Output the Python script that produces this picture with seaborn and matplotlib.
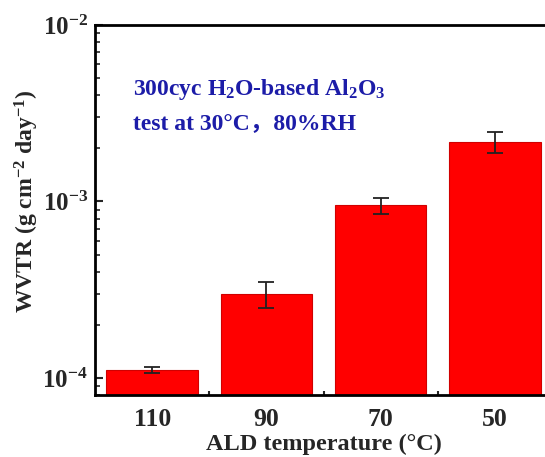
import matplotlib
matplotlib.use("Agg")
import matplotlib.pyplot as plt
import seaborn as sns
import pandas as pd
import numpy as np
from matplotlib.ticker import LogLocator, FixedLocator, NullFormatter

categories = ["110", "90", "70", "50"]
wvtr = [1.11e-4, 3.0e-4, 9.5e-4, 2.18e-3]
wvtr_err = [0.05e-4, 0.5e-4, 1.0e-4, 0.3e-3]

sns.set_theme(style="white")
plt.rcParams['font.family'] = ['Liberation Serif', 'Noto Sans CJK SC']
plt.rcParams['font.weight'] = 'bold'
plt.rcParams['mathtext.fontset'] = 'custom'
plt.rcParams['mathtext.rm'] = 'Liberation Serif:bold'
plt.rcParams['mathtext.it'] = 'Liberation Serif:italic:bold'
plt.rcParams['mathtext.bf'] = 'Liberation Serif:bold'
plt.rcParams['mathtext.default'] = 'rm'

fig = plt.figure(figsize=(5.45, 4.57), dpi=100)
ax = fig.add_axes([95/545, 62/457, 457/545, 370/457])

df = pd.DataFrame({"temp": categories, "wvtr": wvtr})
sns.barplot(data=df, x="temp", y="wvtr", order=categories, color="#ff0000",
            saturation=1, width=0.8, edgecolor="#d00000", linewidth=0.8, ax=ax, errorbar=None)
ax.errorbar(np.arange(len(categories)), wvtr, yerr=wvtr_err, fmt="none",
            ecolor="#222222", elinewidth=1.3, capsize=6, capthick=1.3)

ax.set_yscale("log")
ax.set_ylim(8.0e-5, 1e-2)
ax.set_xlim(-0.5, 3.5)
ax.yaxis.set_major_locator(FixedLocator([1e-4, 1e-3, 1e-2]))
ax.set_yticklabels([r"$10^{-4}$", r"$10^{-3}$", r"$10^{-2}$"])
ax.yaxis.set_minor_locator(LogLocator(base=10, subs=np.arange(2, 10)))
ax.yaxis.set_minor_formatter(NullFormatter())
ax.set_xticks(range(len(categories)))
ax.set_xticklabels(categories)
ax.set_xticks([0.5, 1.5, 2.5], minor=True)

ax.tick_params(axis="y", which="major", direction="in", length=6, width=1.5, labelsize=18, pad=5, left=True)
ax.tick_params(axis="y", which="minor", direction="in", length=3.5, width=1.2, left=True)
ax.tick_params(axis="x", which="major", direction="in", length=0, labelsize=18.5, pad=9, bottom=True)
ax.tick_params(axis="x", which="minor", direction="in", length=3, width=1.5, bottom=True)

for s in ["left", "bottom", "top", "right"]:
    ax.spines[s].set_linewidth(2)
    ax.spines[s].set_color("black")

ax.set_xlabel("ALD temperature (°C)", fontsize=17.5, fontweight="bold")
ax.set_ylabel(r"WVTR (g cm$^{-2}$ day$^{-1}$)", fontsize=17, fontweight="bold")
ax.xaxis.set_label_coords(0.5, -0.104)
ax.yaxis.set_label_coords(-0.118, 0.524)

ax.text(0.084, 0.81, r"300cyc H$_2$O-based Al$_2$O$_3$", transform=ax.transAxes,
        fontsize=17, fontweight="bold", color="#1c1ca8", ha="left", va="baseline")
ax.text(0.084, 0.715, "test at 30°C，80%RH", transform=ax.transAxes,
        fontsize=17, fontweight="bold", color="#1c1ca8", ha="left", va="baseline")

fig.savefig("out.png", dpi=100)
